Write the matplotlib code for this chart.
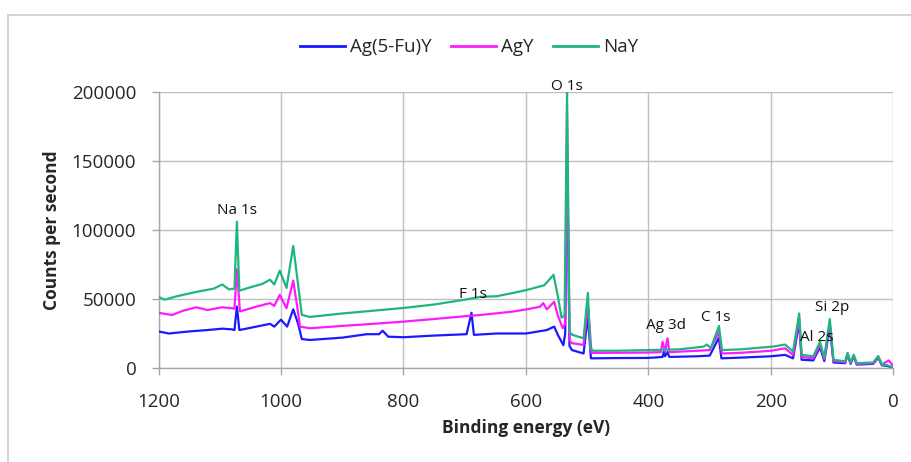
import matplotlib
matplotlib.use("Agg")
import matplotlib.pyplot as plt
from matplotlib.lines import Line2D

plt.rcParams['font.family'] = ['Open Sans', 'DejaVu Sans']

# ---- data (binding energy eV, counts per second) ----
blue_E = [1200, 1183, 1150, 1120, 1096, 1080, 1076, 1072, 1068, 1040, 1018, 1011, 1000, 990, 980, 972, 966, 953,
          900, 860, 840, 834, 825, 800, 750, 697, 689, 685, 648, 600, 566, 554, 548, 539, 536, 533, 529, 525, 506,
          499, 494, 450, 400, 377, 375, 373, 369, 366, 320, 300, 285, 281, 250, 200, 177, 164, 154, 150, 131, 120,
          113, 104, 98, 79, 75, 70, 65, 60, 33, 25, 19, 10, 0]
blue_C = [26500, 25000, 26500, 27500, 28500, 28000, 27500, 44500, 27500, 30000, 32000, 30000, 35000, 30000, 42500,
          32000, 21000, 20300, 22000, 24500, 24500, 27000, 22700, 22300, 23500, 24500, 40000, 24000, 25000, 25000,
          27500, 30000, 24000, 16500, 25000, 160000, 16000, 13000, 10500, 38000, 7000, 7200, 7300, 8000, 11800, 8500,
          11500, 8000, 8500, 9000, 22000, 7000, 7500, 8500, 9500, 7000, 33000, 6000, 5500, 15000, 5000, 30000, 4000,
          3500, 9500, 3000, 8500, 2500, 3000, 7500, 2000, 1500, 0]

mag_E = [1200, 1178, 1160, 1138, 1120, 1096, 1080, 1076, 1072, 1067, 1040, 1018, 1011, 1002, 991, 980, 972, 969, 953,
         900, 850, 800, 750, 700, 675, 648, 620, 599, 577, 572, 566, 554, 548, 540, 536, 533, 529, 525, 506, 499, 493,
         450, 400, 380, 377, 373, 369, 366, 320, 300, 285, 280, 250, 200, 177, 164, 154, 150, 131, 120, 113, 104, 98,
         79, 75, 70, 65, 60, 33, 25, 19, 8, 3, 0]
mag_C = [40000, 38400, 41500, 44000, 42000, 44000, 43300, 43000, 71500, 41000, 44500, 47000, 45000, 53000, 43300,
         63300, 40000, 30000, 28800, 30500, 32000, 33600, 35500, 37500, 38400, 39600, 41000, 42500, 44400, 47000,
         42500, 48000, 38000, 28800, 32000, 185000, 20000, 18000, 16700, 46000, 11000, 11000, 11200, 11500, 19000,
         12000, 21500, 11500, 12500, 13000, 26000, 10500, 11000, 12500, 14300, 9400, 36000, 8000, 7000, 17000, 6500,
         32000, 5000, 4200, 10000, 3500, 9000, 3000, 3500, 8000, 2500, 5500, 3000, 500]

grn_E = [1200, 1190, 1170, 1140, 1110, 1096, 1085, 1076, 1072, 1068, 1050, 1030, 1018, 1011, 1002, 991, 980, 972, 966,
         953, 900, 850, 800, 750, 700, 675, 648, 620, 599, 570, 555, 548, 542, 537, 533, 529, 524, 506, 499, 495, 490,
         450, 400, 350, 310, 305, 298, 285, 280, 250, 197, 177, 164, 154, 150, 131, 120, 113, 104, 98, 79, 75, 70, 65,
         60, 33, 25, 19, 10, 0]
grn_C = [51500, 49500, 52000, 55000, 57500, 60500, 57000, 57500, 106000, 56000, 58500, 61000, 64000, 60500, 70500,
         58000, 88500, 60000, 38500, 37000, 39500, 41500, 43500, 46000, 49500, 51500, 52000, 54500, 56500, 60000,
         67500, 52000, 36500, 38000, 200000, 26000, 24000, 21500, 54500, 14000, 12500, 12500, 13000, 13500, 15500,
         17000, 14500, 30500, 13000, 13500, 15500, 17000, 12000, 39500, 9500, 8500, 19000, 7500, 35500, 6000, 4800,
         11000, 4000, 9500, 3500, 4000, 8700, 2500, 2000, 0]

series_names = ["Ag(5-Fu)Y", "AgY", "NaY"]
series_colors = ["#1a1aff", "#ff19ff", "#1fb57f"]

peak_labels = ["Na 1s", "F 1s", "O 1s", "Ag 3d", "C 1s", "Si 2p", "Al 2s"]
peak_E = [1072, 687, 533, 371, 290, 100, 125]
peak_C = [111600, 50700, 201400, 28300, 34400, 41300, 19900]

x_ticks = [1200, 1000, 800, 600, 400, 200, 0]
y_ticks = [0, 50000, 100000, 150000, 200000]

W, H = 911, 462
fig = plt.figure(figsize=(W / 100, H / 100), dpi=100)
ax = fig.add_axes([158.5 / W, 1 - 368 / H, (893.5 - 158.5) / W, (368 - 92) / H])

for E, C, n, c in zip([blue_E, mag_E, grn_E], [blue_C, mag_C, grn_C], series_names, series_colors):
    ax.plot(E, C, color=c, lw=1.6, label=n, solid_joinstyle='round', zorder=3)

ax.set_xlim(1200, 0)
ax.set_ylim(0, 200000)
ax.set_xticks(x_ticks)
ax.set_yticks(y_ticks)
ax.set_xticklabels([str(v) for v in x_ticks])
ax.set_yticklabels([str(v) for v in y_ticks])
ax.grid(True, color='#bfbfbf', lw=1.0)
ax.set_axisbelow(True)
for s in ['top', 'right']:
    ax.spines[s].set_visible(False)
for s in ['left', 'bottom']:
    ax.spines[s].set_color('#a6a6a6')
    ax.spines[s].set_linewidth(1.0)
ax.tick_params(axis='both', colors='#a6a6a6', labelcolor='#262626', labelsize=13.5, length=5, width=1.0)
ax.tick_params(axis='y', pad=11)
ax.tick_params(axis='x', pad=13)

ax.set_xlabel("Binding energy (eV)", fontsize=12.5, fontweight='bold', color='#262626', labelpad=6)
ax.set_ylabel("Counts per second", fontsize=12.5, fontweight='bold', color='#262626', labelpad=8)

for t, e, c in zip(peak_labels, peak_E, peak_C):
    ax.text(e, c, t, ha='center', va='baseline', fontsize=11, color='#111111', zorder=5, clip_on=False)

leg = fig.legend(loc='center', bbox_to_anchor=(469 / W, 1 - 47.3 / H), ncol=3, frameon=False,
                 fontsize=13.5, handlelength=2.4, handletextpad=0.3, columnspacing=1.0)
for line in leg.get_lines():
    line.set_linewidth(2.0)
for txt in leg.get_texts():
    txt.set_color('#262626')

# outer chart frame
fig.add_artist(Line2D([8 / W, 8 / W], [0, 1 - 15 / H], transform=fig.transFigure, color='#d0d0d0', lw=1.3))
fig.add_artist(Line2D([8 / W, 1], [1 - 15 / H, 1 - 15 / H], transform=fig.transFigure, color='#d0d0d0', lw=1.3))

fig.savefig("out.png", dpi=100)
